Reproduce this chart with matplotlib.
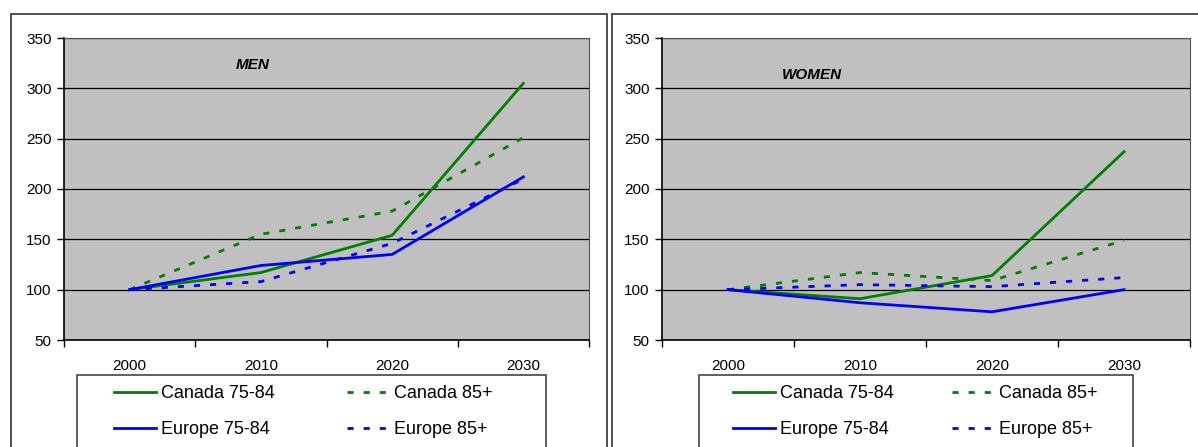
import matplotlib.pyplot as plt
import matplotlib.patches as patches
import numpy as np

plt.rcParams['font.family'] = ['Liberation Sans', 'DejaVu Sans']

years = ['2000', '2010', '2020', '2030']

# index values, 2000 = 100
men_canada_75_84 = [100, 117, 154, 305]
men_canada_85 = [100, 155, 178, 251]
men_europe_75_84 = [100, 124, 135, 212]
men_europe_85 = [100, 108, 146, 210]

women_canada_75_84 = [100, 91, 114, 237]
women_canada_85 = [100, 117, 109, 149]
women_europe_75_84 = [100, 87, 78, 100]
women_europe_85 = [100, 105, 103, 112]

W, H = 1198, 447
fig = plt.figure(figsize=(W / 100, H / 100), dpi=100)


def fx(px):
    return px / W


def fy(py):
    return 1 - py / H


# outer chart frames
for x0, x1 in [(11, 607), (612, 1260)]:
    fig.patches.append(patches.Rectangle((fx(x0), fy(500)), fx(x1 - x0), fy(14) - fy(500),
                                         transform=fig.transFigure, fill=False,
                                         edgecolor='#333333', linewidth=1.2))


def panel(left, right, title, tx, ty, data, leg_box, leg_anchor, leg_cs):
    ax = fig.add_axes([fx(left), fy(340), fx(right - left), fy(38) - fy(340)])
    ax.set_facecolor('#C0C0C0')
    x = np.arange(len(years))
    styles = [('Canada 75-84', 'green', '-'), ('Canada 85+', 'green', '--'),
              ('Europe 75-84', 'blue', '-'), ('Europe 85+', 'blue', '--')]
    lines = []
    for (lab, col, ls), vals in zip(styles, data):
        ln, = ax.plot(x, vals, color=col, linewidth=2.0, label=lab)
        if ls == '--':
            ln.set_dashes((2.2, 3.6))
        lines.append(ln)
    ax.set_xlim(-0.5, 3.5)
    ax.set_ylim(50, 350)
    ax.set_yticks(range(50, 351, 50))
    ax.yaxis.grid(True, color='black', linewidth=0.9)
    ax.set_axisbelow(True)
    ax.set_xticks(np.arange(-0.5, 3.6, 1.0))
    ax.set_xticklabels([])
    ax.set_xticks(x, minor=True)
    ax.set_xticklabels(years, minor=True)
    ax.tick_params(axis='x', which='major', length=5, width=1, color='black')
    ax.tick_params(axis='x', which='minor', length=0, pad=14, labelsize=11)
    ax.tick_params(axis='y', length=5, width=1, labelsize=11, pad=4)
    ax.spines['top'].set_color('#555555')
    ax.spines['right'].set_color('#555555')
    ax.spines['left'].set_linewidth(1.2)
    ax.spines['bottom'].set_linewidth(1.2)
    ax.text(tx, ty, title, transform=ax.transAxes, fontsize=11,
            fontweight='bold', fontstyle='italic', ha='center', va='center')

    # legend box
    bx0, bx1 = leg_box
    fig.patches.append(patches.Rectangle((fx(bx0), fy(500)), fx(bx1 - bx0), fy(375) - fy(500),
                                         transform=fig.transFigure, fill=False,
                                         edgecolor='#444444', linewidth=1.2))
    order = [lines[0], lines[2], lines[1], lines[3]]
    fig.legend(order, [l.get_label() for l in order], ncol=2, frameon=False,
               loc='upper left', bbox_to_anchor=(fx(leg_anchor), fy(385)),
               fontsize=13, handlelength=2.3, handletextpad=0.3,
               columnspacing=leg_cs, labelspacing=1.05, borderpad=0, borderaxespad=0)
    return ax


panel(64, 589, 'MEN', 0.36, 0.91,
      [men_canada_75_84, men_canada_85, men_europe_75_84, men_europe_85],
      (77, 546), 114, 4.0)
panel(662, 1190, 'WOMEN', 0.284, 0.877,
      [women_canada_75_84, women_canada_85, women_europe_75_84, women_europe_85],
      (699, 1133), 733, 3.25)

fig.savefig('out.png', dpi=100)
